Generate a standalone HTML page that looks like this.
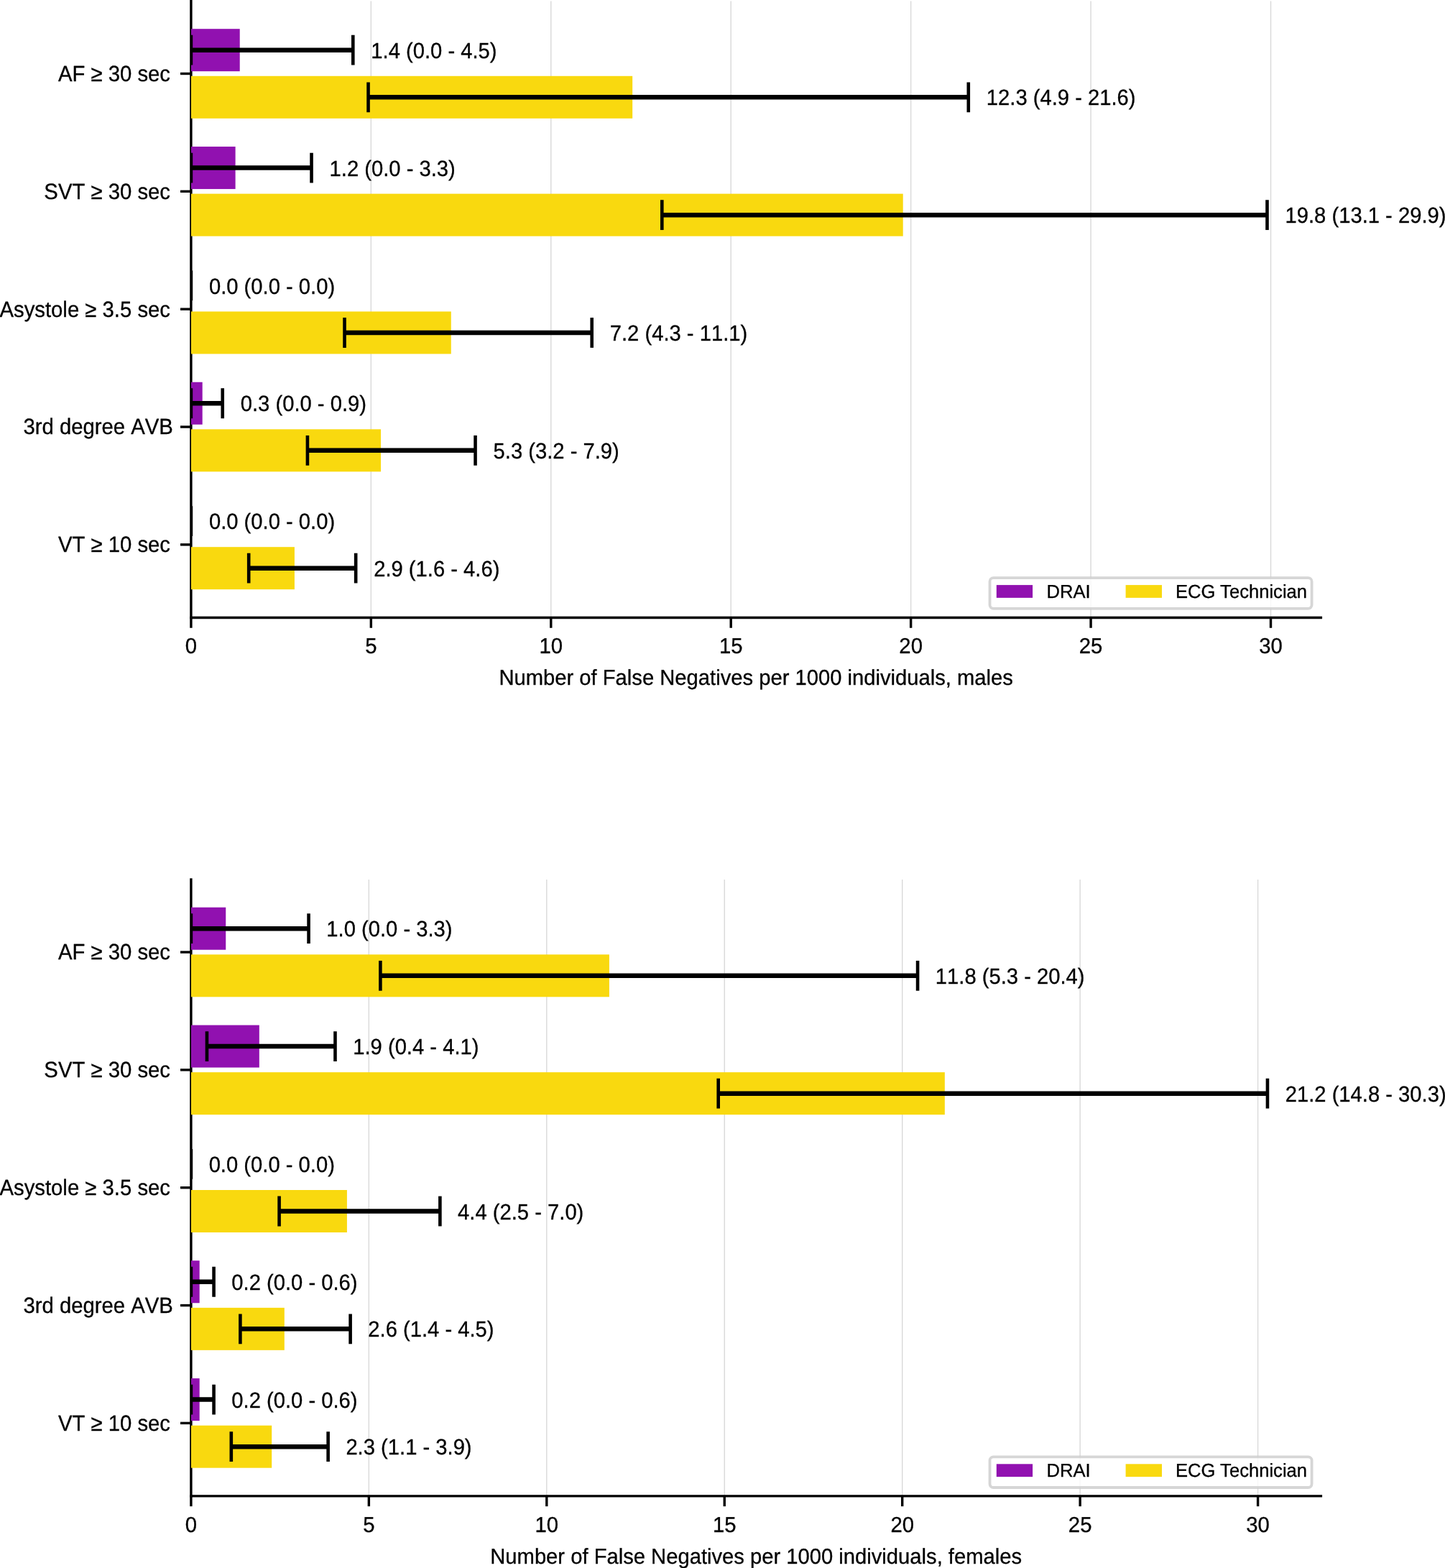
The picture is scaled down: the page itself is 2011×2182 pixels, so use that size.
<!DOCTYPE html><html><head><meta charset="utf-8"><title>False negatives chart</title><style>html,body{margin:0;padding:0;background:#fff;}body{width:2011px;height:2182px;overflow:hidden;}svg{display:block;}text{font-family:"Liberation Sans", Arial, Helvetica, sans-serif;fill:#000;font-kerning:none;text-rendering:geometricPrecision;stroke:#000;stroke-width:0.3px;}</style></head><body>
<svg width="2011" height="2182" viewBox="0 0 2011 2182">
<rect x="0" y="0" width="2011" height="2182" fill="#fff"/>
<g><line x1="516.34" y1="1.5" x2="516.34" y2="859.5" stroke="#d9d9d9" stroke-width="1.4"/>
<line x1="766.77" y1="1.5" x2="766.77" y2="859.5" stroke="#d9d9d9" stroke-width="1.4"/>
<line x1="1017.21" y1="1.5" x2="1017.21" y2="859.5" stroke="#d9d9d9" stroke-width="1.4"/>
<line x1="1267.64" y1="1.5" x2="1267.64" y2="859.5" stroke="#d9d9d9" stroke-width="1.4"/>
<line x1="1518.08" y1="1.5" x2="1518.08" y2="859.5" stroke="#d9d9d9" stroke-width="1.4"/>
<line x1="1768.51" y1="1.5" x2="1768.51" y2="859.5" stroke="#d9d9d9" stroke-width="1.4"/>
<line x1="265.9" y1="-0.2" x2="265.9" y2="861.2" stroke="#000" stroke-width="3.4"/>
<line x1="264.2" y1="859.5" x2="1840.08" y2="859.5" stroke="#000" stroke-width="3.4"/>
<clipPath id="c0"><rect x="265.9" y="1.5" width="1572.48" height="858"/></clipPath>
<g clip-path="url(#c0)">
<rect x="265.9" y="40.2" width="67.82" height="59" fill="#9111b0"/>
<rect x="265.9" y="105.8" width="614.27" height="59" fill="#f9d90f"/>
<rect x="265.9" y="204.05" width="61.71" height="59" fill="#9111b0"/>
<rect x="265.9" y="269.65" width="990.82" height="59" fill="#f9d90f"/>
<rect x="265.9" y="433.5" width="361.88" height="59" fill="#f9d90f"/>
<rect x="265.9" y="531.75" width="15.78" height="59" fill="#9111b0"/>
<rect x="265.9" y="597.35" width="264.16" height="59" fill="#f9d90f"/>
<rect x="265.9" y="761.2" width="144" height="59" fill="#f9d90f"/>
<line x1="265.9" y1="69.7" x2="491.29" y2="69.7" stroke="#000" stroke-width="6.5"/>
<line x1="265.9" y1="48.8" x2="265.9" y2="90.6" stroke="#000" stroke-width="4.6"/>
<line x1="491.29" y1="48.8" x2="491.29" y2="90.6" stroke="#000" stroke-width="4.6"/>
<line x1="512.53" y1="135.3" x2="1347.78" y2="135.3" stroke="#000" stroke-width="6.5"/>
<line x1="512.53" y1="114.4" x2="512.53" y2="156.2" stroke="#000" stroke-width="4.6"/>
<line x1="1347.78" y1="114.4" x2="1347.78" y2="156.2" stroke="#000" stroke-width="4.6"/>
<line x1="265.9" y1="233.55" x2="433.54" y2="233.55" stroke="#000" stroke-width="6.5"/>
<line x1="265.9" y1="212.65" x2="265.9" y2="254.45" stroke="#000" stroke-width="4.6"/>
<line x1="433.54" y1="212.65" x2="433.54" y2="254.45" stroke="#000" stroke-width="4.6"/>
<line x1="921.29" y1="299.15" x2="1763.5" y2="299.15" stroke="#000" stroke-width="6.5"/>
<line x1="921.29" y1="278.25" x2="921.29" y2="320.05" stroke="#000" stroke-width="4.6"/>
<line x1="1763.5" y1="278.25" x2="1763.5" y2="320.05" stroke="#000" stroke-width="4.6"/>
<line x1="265.9" y1="376.5" x2="265.9" y2="418.3" stroke="#000" stroke-width="4.6"/>
<line x1="479.52" y1="463" x2="823.72" y2="463" stroke="#000" stroke-width="6.5"/>
<line x1="479.52" y1="442.1" x2="479.52" y2="483.9" stroke="#000" stroke-width="4.6"/>
<line x1="823.72" y1="442.1" x2="823.72" y2="483.9" stroke="#000" stroke-width="4.6"/>
<line x1="265.9" y1="561.25" x2="309.73" y2="561.25" stroke="#000" stroke-width="6.5"/>
<line x1="265.9" y1="540.35" x2="265.9" y2="582.15" stroke="#000" stroke-width="4.6"/>
<line x1="309.73" y1="540.35" x2="309.73" y2="582.15" stroke="#000" stroke-width="4.6"/>
<line x1="427.93" y1="626.85" x2="661.54" y2="626.85" stroke="#000" stroke-width="6.5"/>
<line x1="427.93" y1="605.95" x2="427.93" y2="647.75" stroke="#000" stroke-width="4.6"/>
<line x1="661.54" y1="605.95" x2="661.54" y2="647.75" stroke="#000" stroke-width="4.6"/>
<line x1="265.9" y1="704.2" x2="265.9" y2="746" stroke="#000" stroke-width="4.6"/>
<line x1="346.19" y1="790.7" x2="495.15" y2="790.7" stroke="#000" stroke-width="6.5"/>
<line x1="346.19" y1="769.8" x2="346.19" y2="811.6" stroke="#000" stroke-width="4.6"/>
<line x1="495.15" y1="769.8" x2="495.15" y2="811.6" stroke="#000" stroke-width="4.6"/>
</g>
<text transform="translate(516.34 80.8) scale(1 1.05)" font-size="29.2">1.4 (0.0 - 4.5)</text>
<text transform="translate(1372.82 146.4) scale(1 1.05)" font-size="29.2">12.3 (4.9 - 21.6)</text>
<text transform="translate(458.58 244.65) scale(1 1.05)" font-size="29.2">1.2 (0.0 - 3.3)</text>
<text transform="translate(1788.54 310.25) scale(1 1.05)" font-size="29.2">19.8 (13.1 - 29.9)</text>
<text transform="translate(290.94 408.5) scale(1 1.05)" font-size="29.2">0.0 (0.0 - 0.0)</text>
<text transform="translate(848.76 474.1) scale(1 1.05)" font-size="29.2">7.2 (4.3 - 11.1)</text>
<text transform="translate(334.77 572.35) scale(1 1.05)" font-size="29.2">0.3 (0.0 - 0.9)</text>
<text transform="translate(686.58 637.95) scale(1 1.05)" font-size="29.2">5.3 (3.2 - 7.9)</text>
<text transform="translate(290.94 736.2) scale(1 1.05)" font-size="29.2">0.0 (0.0 - 0.0)</text>
<text transform="translate(520.19 801.8) scale(1 1.05)" font-size="29.2">2.9 (1.6 - 4.6)</text>
<line x1="251" y1="102.5" x2="265.9" y2="102.5" stroke="#000" stroke-width="3.4"/>
<text transform="translate(237 112.9) scale(1 1.05)" font-size="29.3" text-anchor="end">AF ≥ 30 sec</text>
<line x1="251" y1="266.35" x2="265.9" y2="266.35" stroke="#000" stroke-width="3.4"/>
<text transform="translate(237 276.75) scale(1 1.05)" font-size="29.3" text-anchor="end">SVT ≥ 30 sec</text>
<line x1="251" y1="430.2" x2="265.9" y2="430.2" stroke="#000" stroke-width="3.4"/>
<text transform="translate(237 440.6) scale(1 1.05)" font-size="29.3" text-anchor="end">Asystole ≥ 3.5 sec</text>
<line x1="251" y1="594.05" x2="265.9" y2="594.05" stroke="#000" stroke-width="3.4"/>
<text transform="translate(240.9 604.45) scale(1 1.05)" font-size="29.3" text-anchor="end">3rd degree AVB</text>
<line x1="251" y1="757.9" x2="265.9" y2="757.9" stroke="#000" stroke-width="3.4"/>
<text transform="translate(237 768.3) scale(1 1.05)" font-size="29.3" text-anchor="end">VT ≥ 10 sec</text>
<line x1="265.9" y1="859.5" x2="265.9" y2="873.8" stroke="#000" stroke-width="3.4"/>
<text transform="translate(265.9 909) scale(1 1.03)" font-size="29.3" text-anchor="middle">0</text>
<line x1="516.34" y1="859.5" x2="516.34" y2="873.8" stroke="#000" stroke-width="3.4"/>
<text transform="translate(516.34 909) scale(1 1.03)" font-size="29.3" text-anchor="middle">5</text>
<line x1="766.77" y1="859.5" x2="766.77" y2="873.8" stroke="#000" stroke-width="3.4"/>
<text transform="translate(766.77 909) scale(1 1.03)" font-size="29.3" text-anchor="middle">10</text>
<line x1="1017.21" y1="859.5" x2="1017.21" y2="873.8" stroke="#000" stroke-width="3.4"/>
<text transform="translate(1017.21 909) scale(1 1.03)" font-size="29.3" text-anchor="middle">15</text>
<line x1="1267.64" y1="859.5" x2="1267.64" y2="873.8" stroke="#000" stroke-width="3.4"/>
<text transform="translate(1267.64 909) scale(1 1.03)" font-size="29.3" text-anchor="middle">20</text>
<line x1="1518.08" y1="859.5" x2="1518.08" y2="873.8" stroke="#000" stroke-width="3.4"/>
<text transform="translate(1518.08 909) scale(1 1.03)" font-size="29.3" text-anchor="middle">25</text>
<line x1="1768.51" y1="859.5" x2="1768.51" y2="873.8" stroke="#000" stroke-width="3.4"/>
<text transform="translate(1768.51 909) scale(1 1.03)" font-size="29.3" text-anchor="middle">30</text>
<text transform="translate(1052.14 952.8) scale(1 1.03)" font-size="29.2" text-anchor="middle">Number of False Negatives per 1000 individuals, males</text>
<rect x="1377.5" y="804.1" width="448.1" height="42.7" rx="5" ry="5" fill="#fff" fill-opacity="0.8" stroke="#cccccc" stroke-opacity="0.8" stroke-width="3.8"/>
<rect x="1386.8" y="814.1" width="50.3" height="17.8" fill="#9111b0"/>
<rect x="1566.6" y="814.1" width="50.4" height="17.8" fill="#f9d90f"/>
<text transform="translate(1456.5 832.1) scale(1 1.02)" font-size="25.6">DRAI</text>
<text transform="translate(1636 832.1) scale(1 1.02)" font-size="25.6" style="font-kerning:normal">ECG Technician</text></g>
<g><line x1="513.35" y1="1223.9" x2="513.35" y2="2081.9" stroke="#d9d9d9" stroke-width="1.4"/>
<line x1="760.8" y1="1223.9" x2="760.8" y2="2081.9" stroke="#d9d9d9" stroke-width="1.4"/>
<line x1="1008.25" y1="1223.9" x2="1008.25" y2="2081.9" stroke="#d9d9d9" stroke-width="1.4"/>
<line x1="1255.7" y1="1223.9" x2="1255.7" y2="2081.9" stroke="#d9d9d9" stroke-width="1.4"/>
<line x1="1503.15" y1="1223.9" x2="1503.15" y2="2081.9" stroke="#d9d9d9" stroke-width="1.4"/>
<line x1="1750.6" y1="1223.9" x2="1750.6" y2="2081.9" stroke="#d9d9d9" stroke-width="1.4"/>
<line x1="265.9" y1="1222.2" x2="265.9" y2="2083.6" stroke="#000" stroke-width="3.4"/>
<line x1="264.2" y1="2081.9" x2="1840.1" y2="2081.9" stroke="#000" stroke-width="3.4"/>
<clipPath id="c1"><rect x="265.9" y="1223.9" width="1572.5" height="858"/></clipPath>
<g clip-path="url(#c1)">
<rect x="265.9" y="1262.7" width="48.35" height="59" fill="#9111b0"/>
<rect x="265.9" y="1328.3" width="582" height="59" fill="#f9d90f"/>
<rect x="265.9" y="1426.55" width="94.92" height="59" fill="#9111b0"/>
<rect x="265.9" y="1492.15" width="1048.94" height="59" fill="#f9d90f"/>
<rect x="265.9" y="1656" width="217.01" height="59" fill="#f9d90f"/>
<rect x="265.9" y="1754.25" width="11.78" height="59" fill="#9111b0"/>
<rect x="265.9" y="1819.85" width="129.91" height="59" fill="#f9d90f"/>
<rect x="265.9" y="1918.1" width="11.78" height="59" fill="#9111b0"/>
<rect x="265.9" y="1983.7" width="112.29" height="59" fill="#f9d90f"/>
<line x1="265.9" y1="1292.2" x2="429.56" y2="1292.2" stroke="#000" stroke-width="6.5"/>
<line x1="265.9" y1="1271.3" x2="265.9" y2="1313.1" stroke="#000" stroke-width="4.6"/>
<line x1="429.56" y1="1271.3" x2="429.56" y2="1313.1" stroke="#000" stroke-width="4.6"/>
<line x1="529.38" y1="1357.8" x2="1277.08" y2="1357.8" stroke="#000" stroke-width="6.5"/>
<line x1="529.38" y1="1336.9" x2="529.38" y2="1378.7" stroke="#000" stroke-width="4.6"/>
<line x1="1277.08" y1="1336.9" x2="1277.08" y2="1378.7" stroke="#000" stroke-width="4.6"/>
<line x1="287.97" y1="1456.05" x2="466.48" y2="1456.05" stroke="#000" stroke-width="6.5"/>
<line x1="287.97" y1="1435.15" x2="287.97" y2="1476.95" stroke="#000" stroke-width="4.6"/>
<line x1="466.48" y1="1435.15" x2="466.48" y2="1476.95" stroke="#000" stroke-width="4.6"/>
<line x1="999.69" y1="1521.65" x2="1763.96" y2="1521.65" stroke="#000" stroke-width="6.5"/>
<line x1="999.69" y1="1500.75" x2="999.69" y2="1542.55" stroke="#000" stroke-width="4.6"/>
<line x1="1763.96" y1="1500.75" x2="1763.96" y2="1542.55" stroke="#000" stroke-width="4.6"/>
<line x1="265.9" y1="1599" x2="265.9" y2="1640.8" stroke="#000" stroke-width="4.6"/>
<line x1="388.59" y1="1685.5" x2="612.38" y2="1685.5" stroke="#000" stroke-width="6.5"/>
<line x1="388.59" y1="1664.6" x2="388.59" y2="1706.4" stroke="#000" stroke-width="4.6"/>
<line x1="612.38" y1="1664.6" x2="612.38" y2="1706.4" stroke="#000" stroke-width="4.6"/>
<line x1="265.9" y1="1783.75" x2="297.57" y2="1783.75" stroke="#000" stroke-width="6.5"/>
<line x1="265.9" y1="1762.85" x2="265.9" y2="1804.65" stroke="#000" stroke-width="4.6"/>
<line x1="297.57" y1="1762.85" x2="297.57" y2="1804.65" stroke="#000" stroke-width="4.6"/>
<line x1="334.39" y1="1849.35" x2="487.62" y2="1849.35" stroke="#000" stroke-width="6.5"/>
<line x1="334.39" y1="1828.45" x2="334.39" y2="1870.25" stroke="#000" stroke-width="4.6"/>
<line x1="487.62" y1="1828.45" x2="487.62" y2="1870.25" stroke="#000" stroke-width="4.6"/>
<line x1="265.9" y1="1947.6" x2="297.57" y2="1947.6" stroke="#000" stroke-width="6.5"/>
<line x1="265.9" y1="1926.7" x2="265.9" y2="1968.5" stroke="#000" stroke-width="4.6"/>
<line x1="297.57" y1="1926.7" x2="297.57" y2="1968.5" stroke="#000" stroke-width="4.6"/>
<line x1="321.82" y1="2013.2" x2="456.63" y2="2013.2" stroke="#000" stroke-width="6.5"/>
<line x1="321.82" y1="1992.3" x2="321.82" y2="2034.1" stroke="#000" stroke-width="4.6"/>
<line x1="456.63" y1="1992.3" x2="456.63" y2="2034.1" stroke="#000" stroke-width="4.6"/>
</g>
<text transform="translate(454.31 1303.3) scale(1 1.05)" font-size="29.2">1.0 (0.0 - 3.3)</text>
<text transform="translate(1301.82 1368.9) scale(1 1.05)" font-size="29.2">11.8 (5.3 - 20.4)</text>
<text transform="translate(491.23 1467.15) scale(1 1.05)" font-size="29.2">1.9 (0.4 - 4.1)</text>
<text transform="translate(1788.71 1532.75) scale(1 1.05)" font-size="29.2">21.2 (14.8 - 30.3)</text>
<text transform="translate(290.64 1631) scale(1 1.05)" font-size="29.2">0.0 (0.0 - 0.0)</text>
<text transform="translate(637.12 1696.6) scale(1 1.05)" font-size="29.2">4.4 (2.5 - 7.0)</text>
<text transform="translate(322.32 1794.85) scale(1 1.05)" font-size="29.2">0.2 (0.0 - 0.6)</text>
<text transform="translate(512.36 1860.45) scale(1 1.05)" font-size="29.2">2.6 (1.4 - 4.5)</text>
<text transform="translate(322.32 1958.7) scale(1 1.05)" font-size="29.2">0.2 (0.0 - 0.6)</text>
<text transform="translate(481.38 2024.3) scale(1 1.05)" font-size="29.2">2.3 (1.1 - 3.9)</text>
<line x1="251" y1="1325" x2="265.9" y2="1325" stroke="#000" stroke-width="3.4"/>
<text transform="translate(237 1335.4) scale(1 1.05)" font-size="29.3" text-anchor="end">AF ≥ 30 sec</text>
<line x1="251" y1="1488.85" x2="265.9" y2="1488.85" stroke="#000" stroke-width="3.4"/>
<text transform="translate(237 1499.25) scale(1 1.05)" font-size="29.3" text-anchor="end">SVT ≥ 30 sec</text>
<line x1="251" y1="1652.7" x2="265.9" y2="1652.7" stroke="#000" stroke-width="3.4"/>
<text transform="translate(237 1663.1) scale(1 1.05)" font-size="29.3" text-anchor="end">Asystole ≥ 3.5 sec</text>
<line x1="251" y1="1816.55" x2="265.9" y2="1816.55" stroke="#000" stroke-width="3.4"/>
<text transform="translate(240.9 1826.95) scale(1 1.05)" font-size="29.3" text-anchor="end">3rd degree AVB</text>
<line x1="251" y1="1980.4" x2="265.9" y2="1980.4" stroke="#000" stroke-width="3.4"/>
<text transform="translate(237 1990.8) scale(1 1.05)" font-size="29.3" text-anchor="end">VT ≥ 10 sec</text>
<line x1="265.9" y1="2081.9" x2="265.9" y2="2096.2" stroke="#000" stroke-width="3.4"/>
<text transform="translate(265.9 2132) scale(1 1.03)" font-size="29.3" text-anchor="middle">0</text>
<line x1="513.35" y1="2081.9" x2="513.35" y2="2096.2" stroke="#000" stroke-width="3.4"/>
<text transform="translate(513.35 2132) scale(1 1.03)" font-size="29.3" text-anchor="middle">5</text>
<line x1="760.8" y1="2081.9" x2="760.8" y2="2096.2" stroke="#000" stroke-width="3.4"/>
<text transform="translate(760.8 2132) scale(1 1.03)" font-size="29.3" text-anchor="middle">10</text>
<line x1="1008.25" y1="2081.9" x2="1008.25" y2="2096.2" stroke="#000" stroke-width="3.4"/>
<text transform="translate(1008.25 2132) scale(1 1.03)" font-size="29.3" text-anchor="middle">15</text>
<line x1="1255.7" y1="2081.9" x2="1255.7" y2="2096.2" stroke="#000" stroke-width="3.4"/>
<text transform="translate(1255.7 2132) scale(1 1.03)" font-size="29.3" text-anchor="middle">20</text>
<line x1="1503.15" y1="2081.9" x2="1503.15" y2="2096.2" stroke="#000" stroke-width="3.4"/>
<text transform="translate(1503.15 2132) scale(1 1.03)" font-size="29.3" text-anchor="middle">25</text>
<line x1="1750.6" y1="2081.9" x2="1750.6" y2="2096.2" stroke="#000" stroke-width="3.4"/>
<text transform="translate(1750.6 2132) scale(1 1.03)" font-size="29.3" text-anchor="middle">30</text>
<text transform="translate(1052.15 2176.2) scale(1 1.03)" font-size="29.2" text-anchor="middle">Number of False Negatives per 1000 individuals, females</text>
<rect x="1377.5" y="2027.3" width="448.1" height="42.7" rx="5" ry="5" fill="#fff" fill-opacity="0.8" stroke="#cccccc" stroke-opacity="0.8" stroke-width="3.8"/>
<rect x="1386.8" y="2037.3" width="50.3" height="17.8" fill="#9111b0"/>
<rect x="1566.6" y="2037.3" width="50.4" height="17.8" fill="#f9d90f"/>
<text transform="translate(1456.5 2055.3) scale(1 1.02)" font-size="25.6">DRAI</text>
<text transform="translate(1636 2055.3) scale(1 1.02)" font-size="25.6" style="font-kerning:normal">ECG Technician</text></g>
</svg></body></html>
